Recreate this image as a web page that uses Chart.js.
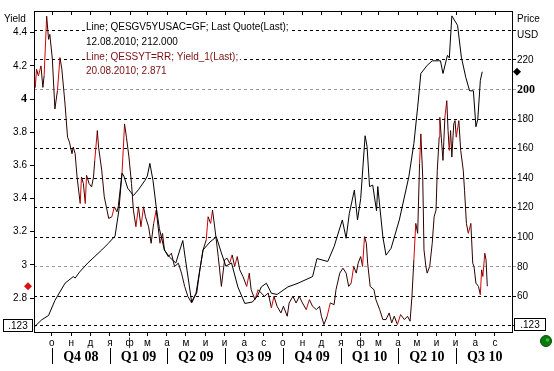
<!DOCTYPE html>
<html lang="ru">
<head>
<meta charset="UTF-8">
<title>QESSYT=RR vs QESGV5YUSAC=GF</title>
<script src="https://cdn.jsdelivr.net/npm/chart.js"></script>
<style>
  body { margin: 0; background: #fff; }
  #chart { display: block; }
</style>
</head>
<body>
<canvas id="chart" width="554" height="371"></canvas>
<script>
// price series (right axis, USD)
const priceDates = ['2008-09-04','2008-09-15','2008-09-26','2008-10-06','2008-10-13','2008-10-22','2008-11-04','2008-11-07','2008-11-14','2008-11-27','2008-12-07','2008-12-19','2008-12-29','2009-01-09','2009-01-15','2009-01-20','2009-01-23','2009-01-29','2009-02-07','2009-02-15','2009-02-25','2009-03-01','2009-03-05','2009-03-10','2009-03-15','2009-03-20','2009-03-28','2009-04-05','2009-04-15','2009-04-26','2009-04-30','2009-05-10','2009-05-17','2009-05-28','2009-06-08','2009-06-18','2009-06-26','2009-07-03','2009-07-12','2009-07-22','2009-08-02','2009-08-14','2009-08-22','2009-08-28','2009-09-05','2009-09-13','2009-09-22','2009-10-09','2009-10-25','2009-11-17','2009-11-24','2009-12-11','2009-12-21','2010-01-03','2010-01-09','2010-01-14','2010-01-22','2010-01-27','2010-02-01','2010-02-08','2010-02-11','2010-02-15','2010-02-20','2010-02-26','2010-02-28','2010-03-08','2010-03-13','2010-03-21','2010-04-03','2010-04-18','2010-04-26','2010-05-02','2010-05-07','2010-05-17','2010-05-25','2010-06-07','2010-06-11','2010-06-18','2010-06-21','2010-06-25','2010-07-04','2010-07-10','2010-07-17','2010-07-23','2010-07-29','2010-08-02','2010-08-05','2010-08-09','2010-08-12'];
const priceValues = [39.5,44.1,47.1,57.2,62.3,68.9,73.4,72.4,76.5,82.6,86.6,91.4,95.7,100.8,118,143.4,141.4,133.2,128.2,132.2,138.3,141.4,150,138.3,120.7,105.9,91.4,86.6,82.6,97.8,85.6,56.2,62.3,91.4,96.8,100.3,89.4,80.5,82.6,66.4,55.2,56.2,60.3,66.4,68.9,62.1,61.3,66.4,68.9,73.4,85.6,83.6,93.7,111.7,99.3,116,131.9,111.7,126.1,168.7,161.6,134.3,135.3,118,134.3,100.3,87.9,92.5,111.7,140.8,163.4,188,210.8,216.3,219.4,219.4,210.8,223.1,221.4,249.8,243.4,221.9,208.2,199.1,199.1,174.8,179.9,206.2,212];

// yield series (left axis)
const yieldDates = ['2008-09-02','2008-09-05','2008-09-07','2008-09-10','2008-09-14','2008-09-17','2008-09-19','2008-09-23','2008-09-26','2008-09-28','2008-10-02','2008-10-06','2008-10-10','2008-10-14','2008-10-17','2008-10-22','2008-10-26','2008-10-29','2008-11-02','2008-11-04','2008-11-07','2008-11-10','2008-11-15','2008-11-17','2008-11-20','2008-11-23','2008-11-25','2008-11-29','2008-12-03','2008-12-06','2008-12-08','2008-12-12','2008-12-14','2008-12-19','2008-12-23','2008-12-30',
  '2009-01-04','2009-01-08','2009-01-12','2009-01-14','2009-01-20','2009-01-24','2009-01-27','2009-01-31','2009-02-04','2009-02-07','2009-02-11','2009-02-15','2009-02-19','2009-02-23','2009-02-26','2009-03-03','2009-03-07','2009-03-11','2009-03-15','2009-03-21','2009-03-25','2009-03-28','2009-04-03','2009-04-08','2009-04-13','2009-04-19','2009-04-24','2009-04-29','2009-05-04','2009-05-10','2009-05-15','2009-05-18','2009-05-23','2009-05-28','2009-06-02','2009-06-05','2009-06-09','2009-06-12','2009-06-16','2009-06-21','2009-06-26','2009-07-01','2009-07-05','2009-07-09','2009-07-13','2009-07-17','2009-07-21','2009-07-25','2009-07-30','2009-08-05','2009-08-09','2009-08-12','2009-08-18','2009-08-23','2009-08-28','2009-09-02','2009-09-08','2009-09-13','2009-09-17','2009-09-22','2009-09-28','2009-10-02','2009-10-08','2009-10-11','2009-10-17','2009-10-22','2009-10-27','2009-11-01','2009-11-07','2009-11-12','2009-11-17','2009-11-23','2009-11-28','2009-12-01','2009-12-05','2009-12-10','2009-12-15','2009-12-21','2009-12-24','2009-12-30',
  '2010-01-04','2010-01-09','2010-01-13','2010-01-17','2010-01-21','2010-01-25','2010-01-28','2010-02-01','2010-02-04','2010-02-07','2010-02-10','2010-02-12','2010-02-16','2010-02-22','2010-02-25','2010-03-03','2010-03-08','2010-03-13','2010-03-18','2010-03-22','2010-03-26','2010-03-31','2010-04-05','2010-04-11','2010-04-16','2010-04-20','2010-04-23','2010-04-26','2010-04-29','2010-05-02','2010-05-05','2010-05-07','2010-05-10','2010-05-12','2010-05-15','2010-05-17','2010-05-21','2010-05-25','2010-05-28','2010-05-31','2010-06-02','2010-06-05','2010-06-06','2010-06-09','2010-06-11','2010-06-14','2010-06-17','2010-06-19','2010-06-21','2010-06-23','2010-06-25','2010-06-28','2010-06-30','2010-07-02','2010-07-06','2010-07-09','2010-07-13','2010-07-15','2010-07-18','2010-07-21','2010-07-25','2010-07-28','2010-07-30','2010-08-02','2010-08-06','2010-08-09','2010-08-11','2010-08-13','2010-08-16','2010-08-18','2010-08-20'];
const yieldValues = [4.24,4.07,4.18,4.14,4.20,4.07,4.14,4.50,4.36,4.39,4.24,3.94,4.05,4.25,4.18,3.97,3.77,3.74,3.67,3.71,3.67,3.53,3.37,3.53,3.49,3.37,3.54,3.49,3.47,3.53,3.63,3.81,3.71,3.57,3.41,3.28,
  3.29,3.35,3.32,3.35,3.55,3.85,3.77,3.65,3.49,3.33,3.23,3.35,3.23,3.35,3.29,3.23,3.13,3.25,3.33,3.13,3.19,3.09,3.05,3.07,2.99,3.01,2.95,2.87,2.81,2.77,2.81,2.83,2.97,3.09,3.15,3.29,3.25,3.33,3.21,3.05,2.87,3.03,3.04,3.01,3.06,2.99,3.05,2.97,2.93,2.87,2.95,2.85,2.79,2.85,2.83,2.81,2.83,2.74,2.81,2.75,2.71,2.75,2.69,2.77,2.81,2.77,2.81,2.77,2.73,2.79,2.75,2.73,2.75,2.69,2.64,2.69,2.77,2.76,2.85,2.95,
  2.98,2.95,2.87,2.89,2.99,2.95,3.01,3.05,2.99,3.17,3.13,3.01,2.87,2.85,2.79,2.73,2.67,2.67,2.71,2.65,2.69,2.64,2.70,2.67,2.69,2.66,2.81,3.03,3.25,3.19,3.61,3.79,3.53,3.09,2.99,2.95,2.99,3.13,3.29,3.33,3.57,3.77,3.89,3.73,3.63,3.89,3.99,3.81,3.69,3.81,3.65,3.85,3.87,3.77,3.87,3.69,3.57,3.45,3.25,3.19,3.25,3.01,2.99,2.89,2.87,2.82,2.97,2.93,3.07,3.03,2.871];

const yieldTicks = [2.8, 3, 3.2, 3.4, 3.6, 3.8, 4, 4.2, 4.4];
const priceTicks = [40, 60, 80, 100, 120, 140, 160, 180, 200, 220, 240];
const monthLetters = ['я', 'ф', 'м', 'а', 'м', 'и', 'и', 'а', 'с', 'о', 'н', 'д'];
const quarterStarts = ['2008-10-01', '2009-01-01', '2009-04-01', '2009-07-01', '2009-10-01', '2010-01-01', '2010-04-01', '2010-07-01', '2010-10-01'];
const quarterLabels = ['Q4 08', 'Q1 09', 'Q2 09', 'Q3 09', 'Q4 09', 'Q1 10', 'Q2 10', 'Q3 10'];
const legendLines = [
    { text: 'Line; QESGV5YUSAC=GF; Last Quote(Last);', color: '#000000' },
    { text: '12.08.2010; 212.000', color: '#000000' },
    { text: 'Line; QESSYT=RR; Yield_1(Last);', color: '#7a1010' },
    { text: '20.08.2010; 2.871', color: '#7a1010' }
];

const day = s => Date.UTC(+s.slice(0, 4), +s.slice(5, 7) - 1, +s.slice(8, 10)) / 86400000;

// month start ticks, Oct 2008 .. Sep 2010
const monthTicks = [];
for (let i = 0; i < 24; i++) {
    monthTicks.push(Date.UTC(2008, 9 + i, 1) / 86400000);
}

const SANS = '"Liberation Sans", Arial, sans-serif';
const SERIF = '"Liberation Serif", "Times New Roman", serif';
Chart.defaults.font.family = SANS;
Chart.defaults.font.size = 10;
Chart.defaults.color = '#000';

const decor = {
    id: 'decor',
    beforeDatasetsDraw(chart) {
        const { ctx } = chart;
        const ys = [27, 42, 57, 71];
        ctx.save();
        ctx.font = '10px ' + SANS;
        ctx.textBaseline = 'middle';
        legendLines.forEach((line, i) => {
            const w = ctx.measureText(line.text).width;
            ctx.fillStyle = '#fff';
            ctx.fillRect(85, ys[i] - 6, w + 3, 12);
            ctx.fillStyle = line.color;
            ctx.fillText(line.text, 86, ys[i]);
        });
        ctx.restore();
    },
    afterDraw(chart) {
        const { ctx, chartArea: a, scales } = chart;
        const x = scales.x;
        ctx.save();
        ctx.strokeStyle = '#000';
        ctx.lineWidth = 1;

        // top frame with month ticks
        ctx.beginPath();
        ctx.moveTo(a.left, a.top + 0.5);
        ctx.lineTo(a.right, a.top + 0.5);
        monthTicks.forEach(v => {
            const px = Math.round(x.getPixelForValue(v)) + 0.5;
            ctx.moveTo(px, a.top);
            ctx.lineTo(px, a.top + 4);
        });
        ctx.stroke();

        // axis titles
        ctx.fillStyle = '#000';
        ctx.font = '10px ' + SANS;
        ctx.textBaseline = 'middle';
        ctx.textAlign = 'left';
        ctx.fillText('Yield', 4, 19);
        ctx.fillText('Price', 517, 19);
        ctx.fillText('USD', 517, 35);

        // quarter row
        ctx.font = 'bold 14px ' + SERIF;
        ctx.textAlign = 'center';
        for (let i = 0; i < quarterLabels.length; i++) {
            const p0 = x.getPixelForValue(day(quarterStarts[i]));
            const p1 = x.getPixelForValue(day(quarterStarts[i + 1]));
            const bx = Math.round(p0) + 0.5;
            ctx.beginPath();
            ctx.moveTo(bx, 348);
            ctx.lineTo(bx, 364);
            ctx.stroke();
            ctx.fillText(quarterLabels[i], (p0 + p1) / 2, 357);
        }

        // ".123" boxes
        ctx.font = '10px ' + SANS;
        [[3, 319, 30], [514, 318, 32]].forEach(([bx, by, bw]) => {
            ctx.fillStyle = '#fff';
            ctx.fillRect(bx, by, bw, 13);
            ctx.strokeRect(bx + 0.5, by + 0.5, bw - 1, 12);
            ctx.fillStyle = '#000';
            ctx.fillText('.123', bx + bw / 2, by + 7);
        });

        // last value markers
        const diamond = (cx, cy, r, color) => {
            ctx.fillStyle = color;
            ctx.beginPath();
            ctx.moveTo(cx, cy - r);
            ctx.lineTo(cx + r, cy);
            ctx.lineTo(cx, cy + r);
            ctx.lineTo(cx - r, cy);
            ctx.closePath();
            ctx.fill();
        };
        diamond(28, scales.y.getPixelForValue(yieldValues[yieldValues.length - 1]), 4, '#e01010');
        diamond(517, scales.y1.getPixelForValue(priceValues[priceValues.length - 1]), 4, '#000');

        // status dot
        ctx.fillStyle = '#0a7a0a';
        ctx.strokeStyle = '#064a06';
        ctx.beginPath();
        ctx.arc(546, 341, 5.5, 0, Math.PI * 2);
        ctx.fill();
        ctx.stroke();
        ctx.fillStyle = '#3cbc3c';
        ctx.beginPath();
        ctx.arc(547.5, 340, 1.8, 0, Math.PI * 2);
        ctx.fill();
        ctx.restore();
    }
};

const normalTick = { family: SANS, size: 10 };
const boldTick = { family: SERIF, size: 12, weight: 'bold' };

new Chart(document.getElementById('chart'), {
    type: 'line',
    data: {
        datasets: [{
            label: 'QESGV5YUSAC=GF',
            data: priceDates.map((d, i) => ({ x: day(d), y: priceValues[i] })),
            yAxisID: 'y1',
            borderColor: '#000',
            borderWidth: 1,
            pointRadius: 0,
            order: 0
        }, {
            label: 'QESSYT=RR',
            data: yieldDates.map((d, i) => ({ x: day(d), y: yieldValues[i] })),
            yAxisID: 'y',
            borderColor: '#2e0000',
            borderWidth: 1,
            pointRadius: 0,
            order: 1,
            segment: {
                // peaks drawn in bright red, the rest near-black maroon
                borderColor: c => {
                    const i = c.p1DataIndex;
                    const v = yieldValues;
                    if (i + 1 < v.length && v[i] - v[i - 1] > 0.05 && v[i] >= v[i + 1]) return '#d80000';
                    return undefined;
                }
            }
        }]
    },
    options: {
        responsive: false,
        animation: false,
        devicePixelRatio: 1,
        layout: { padding: { top: 11 } },
        plugins: { legend: { display: false }, tooltip: { enabled: false } },
        scales: {
            x: {
                type: 'linear',
                min: day('2008-09-03'),
                max: day('2010-09-28'),
                afterBuildTicks: s => { s.ticks = monthTicks.map(v => ({ value: v })); },
                afterFit: s => { s.height = 39; },
                grid: { drawOnChartArea: false, tickLength: 4, color: '#000' },
                border: { color: '#000' },
                ticks: {
                    autoSkip: false,
                    maxRotation: 0,
                    padding: 1,
                    font: { size: 10 },
                    callback: v => monthLetters[new Date(v * 86400000).getUTCMonth()]
                }
            },
            y: {
                position: 'left',
                min: 2.595,
                max: 4.531,
                afterBuildTicks: s => { s.ticks = yieldTicks.map(v => ({ value: v })); },
                afterFit: s => { s.width = 34; },
                grid: { drawOnChartArea: false, tickLength: 4, color: '#000' },
                border: { color: '#000' },
                ticks: {
                    padding: 3,
                    font: c => (c.tick && c.tick.value === 4) ? boldTick : normalTick,
                    callback: v => Number.isInteger(v) ? String(v) : v.toFixed(1)
                }
            },
            y1: {
                position: 'right',
                min: 35.9,
                max: 253.1,
                afterBuildTicks: s => { s.ticks = priceTicks.map(v => ({ value: v })); },
                afterFit: s => { s.width = 42; },
                grid: {
                    tickLength: 4,
                    color: c => (c.tick && (c.tick.value === 200 || c.tick.value === 80)) ? '#9a9a9a' : '#000'
                },
                border: { color: '#000', dash: [3, 3] },
                ticks: {
                    padding: 1,
                    font: c => (c.tick && c.tick.value === 200) ? boldTick : normalTick,
                    callback: v => (v === 40 || v === 240) ? '' : String(v)
                }
            }
        }
    },
    plugins: [decor]
});
</script>
</body>
</html>
